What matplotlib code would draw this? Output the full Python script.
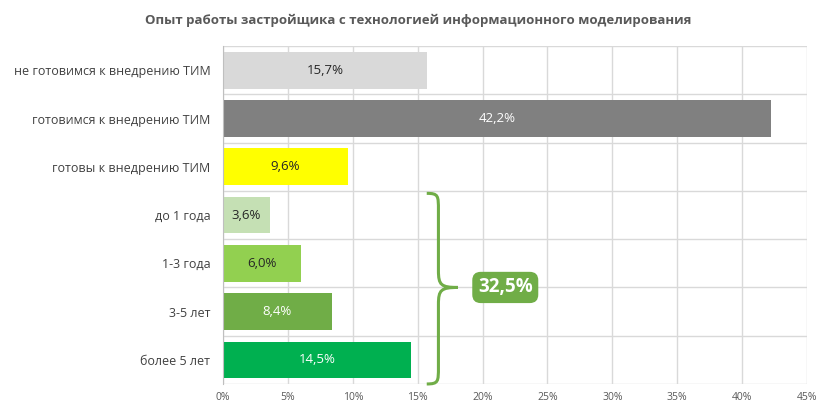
import matplotlib.pyplot as plt
from matplotlib.path import Path
from matplotlib.patches import PathPatch

plt.rcParams['font.family'] = ['Open Sans', 'DejaVu Sans']

categories = ["не готовимся к внедрению ТИМ", "готовимся к внедрению ТИМ",
              "готовы к внедрению ТИМ", "до 1 года", "1-3 года", "3-5 лет",
              "более 5 лет"]
values = [15.7, 42.2, 9.6, 3.6, 6.0, 8.4, 14.5]
labels = ["15,7%", "42,2%", "9,6%", "3,6%", "6,0%", "8,4%", "14,5%"]
colors = ["#D9D9D9", "#808080", "#FFFF00", "#C5E0B4", "#92D050", "#70AD47", "#00B050"]
text_colors = ["#262626", "white", "#262626", "#262626", "#262626", "white", "white"]
xticks = [0, 5, 10, 15, 20, 25, 30, 35, 40, 45]
total_label = "32,5%"

fig = plt.figure(figsize=(8.32, 4.16), dpi=100)
ax = fig.add_axes([0.268, 0.077, 0.702, 0.812])

y = list(range(len(categories)))
ax.barh(y, values, height=0.76, color=colors, zorder=2)
for i, v in enumerate(values):
    ax.text(v / 2, i, labels[i], ha='center', va='center', fontsize=9.5,
            color=text_colors[i], zorder=3)

ax.set_xlim(0, 45)
ax.set_ylim(len(categories) - 0.5, -0.5)
ax.set_xticks(xticks)
ax.set_xticklabels([f"{t}%" for t in xticks], fontsize=7.5, color="#595959")
ax.set_yticks(y)
ax.set_yticklabels(categories, fontsize=9, color="#404040")
ax.tick_params(axis='y', length=0, pad=9)
ax.tick_params(axis='x', length=0, pad=6)

# category separators and vertical grid
ax.set_yticks([i + 0.5 for i in range(-1, len(categories))], minor=True)
ax.tick_params(which='minor', length=0)
ax.grid(axis='x', color="#D9D9D9", lw=1, zorder=0)
ax.grid(axis='y', which='minor', color="#D9D9D9", lw=1, zorder=0)
for s in ['top', 'right', 'bottom']:
    ax.spines[s].set_visible(False)
ax.spines['left'].set_color("#BFBFBF")

# brace
x0, x1, xt = 15.7, 16.6, 18.1
top, mid, bot = 2.55, 4.5, 6.5
verts = [(x0, top), (x1, top), (x1, top + 0.05), (x1, top + 0.35),
         (x1, mid - 0.35),
         (x1, mid - 0.05), (x1 + 0.2, mid), (xt, mid),
         (x1 + 0.2, mid), (x1, mid + 0.05), (x1, mid + 0.35),
         (x1, bot - 0.35),
         (x1, bot - 0.05), (x1, bot), (x0, bot)]
codes = [Path.MOVETO, Path.CURVE4, Path.CURVE4, Path.CURVE4,
         Path.LINETO,
         Path.CURVE4, Path.CURVE4, Path.CURVE4,
         Path.CURVE4, Path.CURVE4, Path.CURVE4,
         Path.LINETO,
         Path.CURVE4, Path.CURVE4, Path.CURVE4]
ax.add_patch(PathPatch(Path(verts, codes), fill=False, edgecolor="#70AD47",
                       lw=2.2, clip_on=False, zorder=4))

ax.text(21.75, mid, total_label, ha='center', va='center', fontsize=13.5,
        fontweight='bold', color='white', zorder=5,
        bbox=dict(boxstyle='round,pad=0.3,rounding_size=0.45',
                  fc="#70AD47", ec="none"))

fig.text(0.503, 0.952, "Опыт работы застройщика с технологией информационного моделирования",
         ha='center', va='center', fontsize=9.5, fontweight='bold', color="#595959")

fig.savefig("out.png", dpi=100)
